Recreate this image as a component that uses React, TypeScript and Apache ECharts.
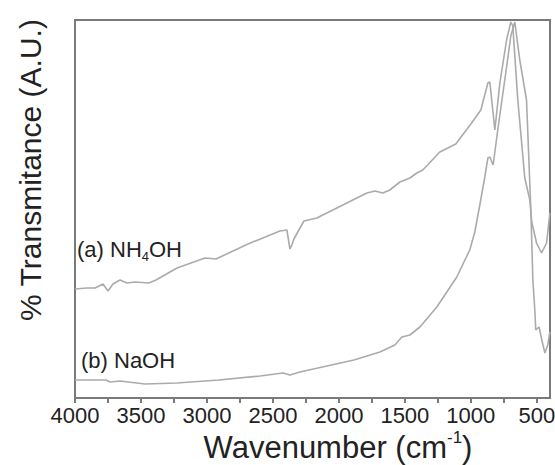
import React, { useEffect, useRef } from "react";
import * as echarts from "echarts";

// Wavenumber (cm^-1) and transmittance (arbitrary units)
const nh4ohWave = [4000, 3909, 3848, 3788, 3750, 3712, 3659, 3606, 3545, 3439, 3386, 3227, 3015, 2932, 2689, 2447, 2394, 2371, 2356, 2341, 2265, 2167, 2015, 1788, 1727, 1667, 1614, 1538, 1462, 1409, 1364, 1235, 1114, 1000, 924, 871, 856, 818, 780, 729, 697, 682, 644, 591, 553, 538, 502, 464, 426, 401];
const nh4ohT = [109, 110, 110, 114, 107, 114, 118, 115, 116, 115, 118, 130, 140, 139, 154, 167, 168, 149, 153, 159, 177, 180, 190, 205, 207, 205, 208, 216, 220, 225, 228, 246, 254, 274, 288, 315, 316, 268, 315, 358, 376, 372, 298, 220, 198, 176, 155, 145, 155, 185];

const naohWave = [4000, 3765, 3735, 3659, 3470, 3227, 2909, 2598, 2424, 2371, 2295, 2159, 1886, 1689, 1576, 1523, 1462, 1386, 1258, 1182, 1106, 1045, 1008, 970, 932, 894, 871, 856, 831, 793, 729, 697, 667, 629, 578, 545, 530, 515, 508, 483, 462, 439, 417, 401];
const naohT = [18, 18, 16, 17, 14, 15, 18, 22, 25, 23, 26, 30, 38, 46, 53, 61, 63, 71, 91, 106, 121, 138, 148, 166, 193, 221, 240, 241, 233, 271, 331, 362, 376, 338, 298, 188, 118, 88, 68, 71, 58, 45, 53, 66];

const tickLabels = [4000, 3500, 3000, 2500, 2000, 1500, 1000, 500];
const tickMarks = [4000, 3750, 3500, 3250, 3000, 2750, 2500, 2250, 2000, 1750, 1500, 1250, 1000, 750, 500];

const FONT = "Liberation Sans, Arial, sans-serif";

export default function App() {
  const ref = useRef<HTMLDivElement>(null);
  useEffect(() => {
    if (!ref.current) return;
    const chart = echarts.init(ref.current, undefined, { renderer: "svg" });
    const toPairs = (xs: number[], ys: number[]) => xs.map((x, i) => [x, ys[i]]);
    chart.setOption({
      animation: false,
      grid: {
        left: 75,
        top: 20,
        right: 5,
        bottom: 67,
        show: true,
        borderColor: "#7a7a7a",
        borderWidth: 2,
        containLabel: false,
        outerBoundsMode: "none",
      },
      xAxis: {
        type: "value",
        inverse: true,
        min: 400,
        max: 4000,
        axisLine: { show: false },
        splitLine: { show: false },
        axisTick: {
          show: true,
          inside: false,
          length: 5,
          customValues: tickMarks,
          lineStyle: { color: "#7a7a7a", width: 2 },
        },
        axisLabel: {
          customValues: tickLabels,
          formatter: (v: number) => String(v),
          fontFamily: FONT,
          fontSize: 22,
          color: "#222",
          margin: 6,
          hideOverlap: false,
        },
      },
      yAxis: {
        type: "value",
        min: 0,
        max: 378,
        axisLine: { show: false },
        axisTick: { show: false },
        axisLabel: { show: false },
        splitLine: { show: false },
      },
      series: [
        {
          name: "(a) NH4OH",
          type: "line",
          data: toPairs(nh4ohWave, nh4ohT),
          showSymbol: false,
          lineStyle: { color: "#ababab", width: 1.6 },
        },
        {
          name: "(b) NaOH",
          type: "line",
          data: toPairs(naohWave, naohT),
          showSymbol: false,
          lineStyle: { color: "#ababab", width: 1.6 },
        },
      ],
      graphic: [
        {
          type: "text",
          x: 338,
          y: 447,
          style: {
            text: "Wavenumber (cm{sup|-1})",
            fontFamily: FONT,
            fontSize: 31,
            fill: "#222",
            align: "center",
            verticalAlign: "middle",
            rich: {
              sup: { fontSize: 17, verticalAlign: "top", padding: [0, 0, 20, 0], fill: "#222", fontFamily: FONT },
            },
          },
        },
        {
          type: "text",
          x: 30,
          y: 170,
          rotation: Math.PI / 2,
          style: {
            text: "% Transmitance (A.U.)",
            fontFamily: FONT,
            fontSize: 30,
            fill: "#222",
            align: "center",
            verticalAlign: "middle",
          },
        },
        {
          type: "text",
          x: 77,
          y: 249,
          style: {
            text: "(a) NH{sub|4}OH",
            fontFamily: FONT,
            fontSize: 22,
            fill: "#222",
            align: "left",
            verticalAlign: "middle",
            rich: {
              sub: { fontSize: 13, padding: [14, 0, 0, 0], fill: "#222", fontFamily: FONT },
            },
          },
        },
        {
          type: "text",
          x: 81,
          y: 360,
          style: {
            text: "(b) NaOH",
            fontFamily: FONT,
            fontSize: 22,
            fill: "#222",
            align: "left",
            verticalAlign: "middle",
          },
        },
      ],
    });
    return () => chart.dispose();
  }, []);
  return <div ref={ref} style={{ width: 555, height: 465, position: "absolute", left: 0, top: 0 }} />;
}
